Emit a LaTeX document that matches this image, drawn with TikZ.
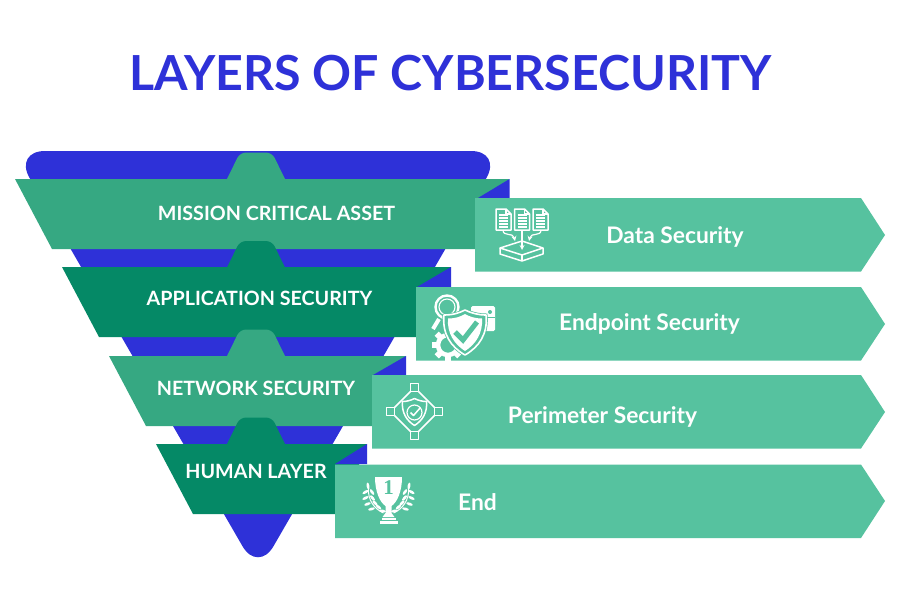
\documentclass[tikz,border=0pt]{standalone}
\usepackage{fontspec}
\setmainfont{Lato}
\newfontfamily\numfont{Liberation Serif}
\definecolor{cblue}{HTML}{2E31D8}
\definecolor{cmid}{HTML}{36A882}
\definecolor{cdark}{HTML}{058966}
\definecolor{cbox}{HTML}{56C29F}
\tikzset{
  x=1pt,y=-1pt,
  funnel/.style={fill=cblue,rounded corners=31pt},
  lab/.style={text=white,font=\fontsize{19.7}{22}\selectfont\bfseries,inner sep=0pt},
  boxlab/.style={text=white,font=\fontsize{22.8}{26}\selectfont\bfseries,inner sep=0pt},
  ico/.style={draw=white,line width=1.5pt,line join=round},
  thin ico/.style={draw=white,line width=1.2pt,line join=round},
}
\newcommand{\docicon}[1]{%
  \begin{scope}[shift={(#1,0)}]
  \draw[ico] (0,0) -- (10,0) -- (15,5) -- (15,21) -- (0,21) -- cycle;
  \draw[thin ico] (10,0) -- (10,5) -- (15,5);
  \foreach \yy in {6,9,12,15,18} \draw[white,line width=1.1pt] (3,\yy) -- (12,\yy);
  \end{scope}}
\newcommand{\tabat}[2]{%
  \fill[#1] (227,{#2+1}) -- (227,#2) [rounded corners=6pt] -- (240,{#2-26.5}) -- (272,{#2-26.5}) [sharp corners] -- (285,#2) -- (285,{#2+1}) -- cycle;}
\begin{document}
\begin{tikzpicture}
\useasboundingbox (0,0) rectangle (900,600);
\fill[white] (0,0) rectangle (900,600);
\node[text=cblue,font=\fontsize{48.3}{54}\selectfont\bfseries,inner sep=0pt] (title) at (450.5,73) {LAYERS OF CYBERSECURITY};
\fill[funnel] (14,151) -- (502,151) -- (258,573) -- cycle;
% layer 1
\tabat{cmid}{179}
\fill[cmid] (15,179) -- (509,179) -- (478,249) -- (52,249) -- cycle;
\fill[cblue] (509.5,179) -- (509.5,198) -- (478,198) -- cycle;
% layer 2
\tabat{cdark}{267.5}
\fill[cdark] (62,267) -- (451,267) -- (420,337) -- (99,337) -- cycle;
\fill[cblue] (451,267) -- (451,287) -- (417,287) -- cycle;
% layer 3
\tabat{cmid}{356}
\fill[cmid] (109,356) -- (406,356) -- (375,426) -- (146,426) -- cycle;
\fill[cblue] (406,356) -- (406,375) -- (373,375) -- cycle;
% layer 4
\tabat{cdark}{444}
\fill[cdark] (156,444) -- (367,444) -- (340,514) -- (193,514) -- cycle;
\fill[cblue] (367,444) -- (367,464) -- (335,464) -- cycle;
% boxes
\fill[cbox] (475,198) -- (861,198) -- (885,235) -- (861,271.5) -- (475,271.5) -- cycle;
\fill[cbox] (416,287) -- (861,287) -- (885,324) -- (861,360.5) -- (416,360.5) -- cycle;
\fill[cbox] (372,375) -- (861,375) -- (885,412) -- (861,448.5) -- (372,448.5) -- cycle;
\fill[cbox] (335,464.5) -- (861,464.5) -- (885,501) -- (861,538) -- (335,538) -- cycle;
% labels
\node[lab] (l1) at (276.5,213) {MISSION CRITICAL ASSET};
\node[lab] (l2) at (259.5,298) {APPLICATION SECURITY};
\node[lab] (l3) at (256,388) {NETWORK SECURITY};
\node[lab] (l4) at (256,471.5) {HUMAN LAYER};
\node[boxlab] (b1) at (675,237) {Data Security};
\node[boxlab] (b2) at (649.5,324) {Endpoint Security};
\node[boxlab] (b3) at (602.5,417) {Perimeter Security};
\node[boxlab] (b4) at (477.5,502) {End};
% icon 1
\begin{scope}[shift={(496,209)}]
\docicon{0}\docicon{18.5}\docicon{37}
\draw[thin ico,-stealth] (7,21) .. controls (7,28) and (17,23) .. (19,32);
\draw[thin ico,-stealth] (26,21) -- (26,41);
\draw[thin ico,-stealth] (45,21) .. controls (45,28) and (35,23) .. (33,32);
\draw[ico] (4,39) -- (26,32) -- (47,39) -- (26,46) -- cycle;
\draw[ico] (4,39) -- (4,45) -- (26,52) -- (47,45) -- (47,39);
\draw[ico] (26,46) -- (26,52);
\end{scope}
% icon 2
\begin{scope}[shift={(431,294)}]
% magnifier
\draw[white,line width=2.4pt] (16,13) circle (11.5);
\draw[white,line width=1.1pt] (16,13) circle (8);
\draw[white,line width=4pt] (8,25) -- (2,35);
% window
\fill[white,rounded corners=1.5pt] (40,12) rectangle (64,37);
\fill[cbox] (59,18) circle (2);
\fill[cbox] (40,22.5) rectangle (64,23.5);
% gear
\foreach \a in {0,45,...,315} \fill[white,shift={(17,51)},rotate=\a] (-3,9) rectangle (3,16);
\draw[white,line width=4.5pt] (17,51) circle (10);
% shield
\draw[cbox,fill=cbox,line width=3pt] (13,21) .. controls (22,21) and (28,19) .. (34,16) .. controls (40,19) and (47,21) .. (55,21)
  .. controls (57,40) and (48,53) .. (34,61) .. controls (20,53) and (11,40) .. (13,21) -- cycle;
\draw[white,line width=1.6pt,line join=round] (13,21) .. controls (22,21) and (28,19) .. (34,16) .. controls (40,19) and (47,21) .. (55,21)
  .. controls (57,40) and (48,53) .. (34,61) .. controls (20,53) and (11,40) .. (13,21) -- cycle;
\fill[white] (17,24.5) .. controls (24,24.5) and (29,23) .. (34,20) .. controls (39,23) and (45,24.5) .. (51,24.5)
  .. controls (52,39) and (45,50) .. (34,57) .. controls (23,50) and (16,39) .. (17,24.5) -- cycle;
\draw[cbox,line width=5pt] (24,38) -- (32,46) -- (46,28);
\end{scope}
% icon 3
\begin{scope}[shift={(414.5,411.5)}]
\draw[ico] (0,-24) -- (24,0) -- (0,24) -- (-24,0) -- cycle;
\foreach \p in {(0,-24),(24,0),(0,24),(-24,0)} \draw[ico,fill=cbox] \p ++(-4,-4) rectangle ++(8,8);
\draw[ico] (0,-13) .. controls (4,-11) and (8,-10) .. (12,-10) .. controls (13,1) and (8,9) .. (0,14) .. controls (-8,9) and (-13,1) .. (-12,-10) .. controls (-8,-10) and (-4,-11) .. (0,-13) -- cycle;
\draw[thin ico] (0,1) circle (7.5);
\draw[ico] (-4,1) -- (-1,4) -- (6,-4);
\end{scope}
% icon 4
\begin{scope}[shift={(388.5,500)}]
\fill[white] (-13.5,-23) -- (13.5,-23) .. controls (13.5,-9) and (9,2) .. (3,6) -- (3,13) -- (6,17) -- (-6,17) -- (-3,13) -- (-3,6) .. controls (-9,2) and (-13.5,-9) .. (-13.5,-23) -- cycle;
\fill[white] (-7,18) rectangle (7,20);
\fill[white] (-9,20.5) rectangle (9,24);
\node[text=cbox,font=\fontsize{21}{21}\selectfont\numfont\bfseries,inner sep=0pt] (one) at (0,-12.5) {1};
\foreach \s in {1,-1} {
 \begin{scope}[xscale=\s]
 \draw[white,line width=1pt] (20,-12) .. controls (21,0) and (14,9) .. (5,13);
 \foreach \px/\py/\a in {20.5/-14/80,23/-8/-30,23/-2/-25,21/4/-20,17/9/-15,
   16.5/-8/55,16/-2/50,13.5/3/45,10/7/40,6/11/10}
   \fill[white,shift={(\px,\py)},rotate=\a] (0,0) ellipse (3.4 and 1.4);
 \end{scope}}
\end{scope}
\end{tikzpicture}
\end{document}
